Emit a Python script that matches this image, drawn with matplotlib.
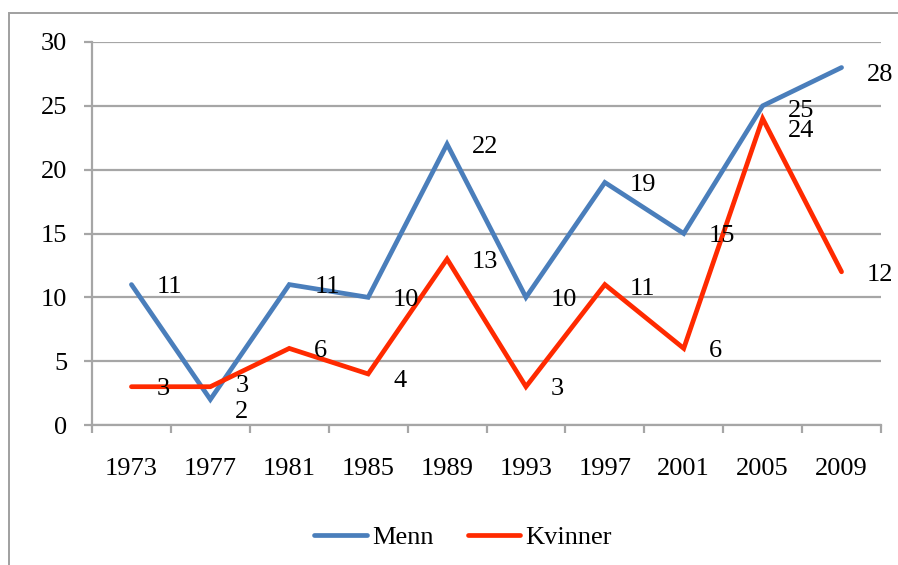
import matplotlib
matplotlib.use("Agg")
import matplotlib.pyplot as plt
from matplotlib.lines import Line2D
from matplotlib.patches import Rectangle
import numpy as np

years = ["1973", "1977", "1981", "1985", "1989", "1993", "1997", "2001", "2005", "2009"]
menn = [11, 2, 11, 10, 22, 10, 19, 15, 25, 28]
kvinner = [3, 3, 6, 4, 13, 3, 11, 6, 24, 12]
yticks = [0, 5, 10, 15, 20, 25, 30]

# label vertical nudges (pixels) for readability
menn_dy = [0, -10, 0, 0, 0, 0, 0, 0, -2, -5]
kvinner_dy = [0, 3, 0, -4, 0, 0, -2, 0, -10, 0]

plt.rcParams['font.family'] = ['Liberation Serif', 'DejaVu Serif']
FS = 19
BLUE = '#4A7EBB'
RED = '#FF2A00'
GRID = '#A6A6A6'

fig = plt.figure(figsize=(8.98, 5.65), dpi=100)
W, H = 898, 565
ax = fig.add_axes([92 / W, 1 - 425 / H, (881 - 92) / W, (425 - 42) / H])

x = np.arange(len(years))
ax.plot(x, menn, color=BLUE, lw=3.4, solid_capstyle='round', solid_joinstyle='miter', zorder=3)
ax.plot(x, kvinner, color=RED, lw=3.4, solid_capstyle='round', solid_joinstyle='miter', zorder=3)

ax.set_xlim(-0.5, len(years) - 0.5)
ax.set_ylim(0, 30)
ax.set_yticks(yticks)
ax.set_yticklabels([str(v) for v in yticks], fontsize=FS)
ax.yaxis.grid(True, color=GRID, lw=1.6)
ax.set_axisbelow(True)
ax.tick_params(axis='y', length=6, width=1.6, color=GRID, pad=12)

ax.set_xticks(x)
ax.set_xticklabels(years, fontsize=FS)
ax.set_xticks(np.arange(-0.5, len(years), 1.0), minor=True)
ax.tick_params(axis='x', which='major', length=0, pad=24)
ax.tick_params(axis='x', which='minor', length=5.5, width=1.6, color=GRID)

for s in ['top', 'right']:
    ax.spines[s].set_visible(False)
for s in ['left', 'bottom']:
    ax.spines[s].set_color(GRID)
    ax.spines[s].set_linewidth(1.6)

for xi, v, dy in zip(x, menn, menn_dy):
    ax.annotate(str(v), (xi, v), xytext=(18, -2 + dy * 0.72), textcoords='offset points',
                ha='left', va='center', fontsize=FS, zorder=4)
for xi, v, dy in zip(x, kvinner, kvinner_dy):
    ax.annotate(str(v), (xi, v), xytext=(18, -2 + dy * 0.72), textcoords='offset points',
                ha='left', va='center', fontsize=FS, zorder=4)

handles = [Line2D([], [], color=BLUE, lw=3.4, solid_capstyle='round'),
           Line2D([], [], color=RED, lw=3.4, solid_capstyle='round')]
fig.legend(handles, ['Menn', 'Kvinner'], loc='center', bbox_to_anchor=(463 / W, 1 - 537 / H),
           ncol=2, frameon=False, fontsize=FS, handlelength=2.0, handletextpad=0.2,
           columnspacing=1.3)

fig.patches.append(Rectangle((9 / W, -0.1), 1.2, 1 - 13 / H + 0.1, transform=fig.transFigure,
                             fill=False, edgecolor='#A0A0A0', lw=1.4, zorder=0))

fig.savefig('out.png', dpi=100)
